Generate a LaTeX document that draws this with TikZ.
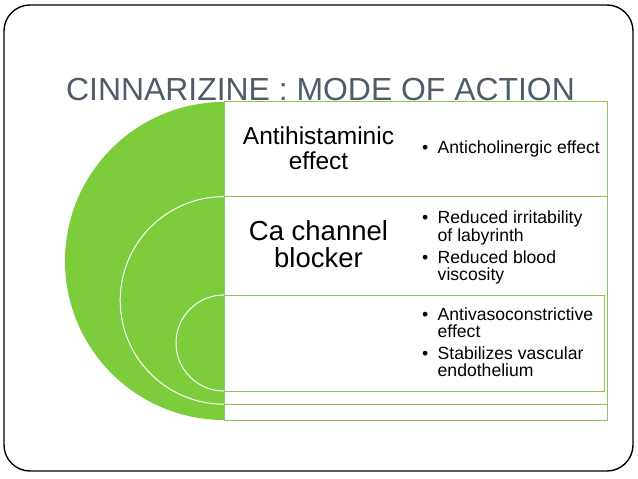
\documentclass[tikz,border=0pt]{standalone}
\usepackage{fontspec}
\setmainfont{Liberation Sans}
\definecolor{diskgreen}{RGB}{124,204,60}
\definecolor{rectline}{RGB}{140,196,96}
\definecolor{titlecol}{RGB}{80,91,106}
\tikzset{
  frame/.style={draw=black, line width=1.4pt, rounded corners=26pt},
  band/.style={draw=rectline, fill=white, line width=0.9pt},
  disk/.style={fill=diskgreen},
  arcline/.style={draw=white, line width=1pt},
  titletext/.style={anchor=base west, inner sep=0pt, text=titlecol, font=\fontsize{31.9}{36}\selectfont},
  leftlabel/.style={anchor=base, inner sep=0pt, text=black},
  bullets/.style={anchor=base west, inner sep=0pt, text=black, font=\fontsize{17.6}{16.7}\selectfont},
}
\newcommand{\bitem}[1]{\makebox[15.5pt][l]{\textbullet}#1}
\newcommand{\bcont}[1]{\hspace*{15.5pt}#1}
\begin{document}
\begin{tikzpicture}[x=1pt,y=-1pt]
\useasboundingbox (0,0) rectangle (638,479);
\draw[frame] (4,5) rectangle (633,471);
\node[titletext] (title) at (66,100) {CINNARIZINE : MODE OF ACTION};
% nested half disks
\fill[disk] (224,420) arc[start angle=90, end angle=270, radius=159] -- cycle;
\fill[disk] (224,404.2) arc[start angle=90, end angle=270, radius=103.8] -- cycle;
\draw[arcline] (224,404.2) arc[start angle=90, end angle=270, radius=103.8];
\fill[disk] (224,391) arc[start angle=90, end angle=270, radius=48] -- cycle;
\draw[arcline] (224,391) arc[start angle=90, end angle=270, radius=48];
% nested rectangles
\draw[band] (224,101.7) rectangle (607,420);
\draw[band] (224,196.7) rectangle (607,404);
\draw[band] (224,295) rectangle (604,391);
% left labels
\node[leftlabel, font=\fontsize{24.5}{24}\selectfont] (antihist) at (318.5,144.3)
  {\begin{tabular}[t]{@{}c@{}}Antihistaminic\\effect\end{tabular}};
\node[leftlabel, font=\fontsize{27.5}{26.7}\selectfont] (cablock) at (318.5,240)
  {\begin{tabular}[t]{@{}c@{}}Ca channel\\blocker\end{tabular}};
% bullet lists
\node[bullets] (b1) at (422,153.5)
  {\begin{tabular}[t]{@{}l@{}}\bitem{Anticholinergic effect}\end{tabular}};
\node[bullets] (b2) at (422,223.3)
  {\begin{tabular}[t]{@{}l@{}}\bitem{Reduced irritability}\\\bcont{of labyrinth}\\[4.3pt]\bitem{Reduced blood}\\\bcont{viscosity}\end{tabular}};
\node[bullets] (b3) at (422,320)
  {\begin{tabular}[t]{@{}l@{}}\bitem{Antivasoconstrictive}\\\bcont{effect}\\[3.6pt]\bitem{Stabilizes vascular}\\\bcont{endothelium}\end{tabular}};
\end{tikzpicture}
\end{document}
